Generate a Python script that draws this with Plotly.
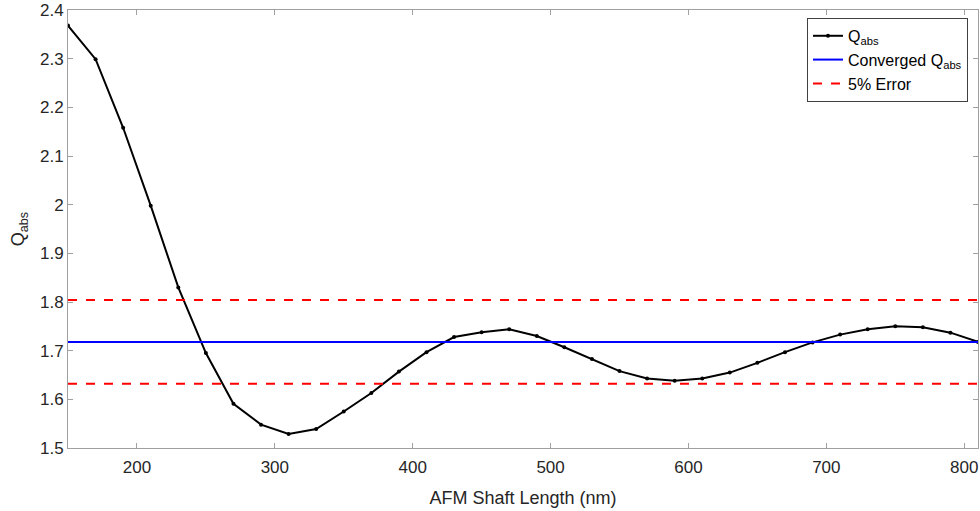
import plotly.graph_objects as go

# Data
shaft_length = [150, 170, 190, 210, 230, 250, 270, 290, 310, 330, 350, 370, 390,
                410, 430, 450, 470, 490, 510, 530, 550, 570, 590, 610, 630, 650,
                670, 690, 710, 730, 750, 770, 790, 810]
q_abs = [2.368, 2.299, 2.158, 1.998, 1.830, 1.695, 1.591, 1.548, 1.529, 1.539,
         1.575, 1.613, 1.657, 1.697, 1.728, 1.738, 1.744, 1.730, 1.707, 1.683,
         1.658, 1.643, 1.638, 1.643, 1.655, 1.675, 1.697, 1.717, 1.733, 1.744,
         1.750, 1.748, 1.737, 1.718]
converged_q = 1.718
error_frac = 0.05
x_range = [150, 810]
x_ticks = [200, 300, 400, 500, 600, 700, 800]
y_ticks = [1.5, 1.6, 1.7, 1.8, 1.9, 2.0, 2.1, 2.2, 2.3, 2.4]
y_tick_text = ["1.5", "1.6", "1.7", "1.8", "1.9", "2", "2.1", "2.2", "2.3", "2.4"]

upper = converged_q * (1 + error_frac)
lower = converged_q * (1 - error_frac)

fig = go.Figure()
fig.add_trace(go.Scatter(
    x=shaft_length, y=q_abs, mode="lines+markers", name="Q<sub>abs</sub>",
    line=dict(color="black", width=2), marker=dict(color="black", size=4)))
fig.add_trace(go.Scatter(
    x=x_range, y=[converged_q, converged_q], mode="lines",
    name="Converged Q<sub>abs</sub>", line=dict(color="#0000ff", width=2)))
fig.add_trace(go.Scatter(
    x=x_range, y=[upper, upper], mode="lines", name="5% Error",
    legendgroup="err", line=dict(color="#ff0000", width=2, dash="dash")))
fig.add_trace(go.Scatter(
    x=x_range, y=[lower, lower], mode="lines", name="5% Error",
    legendgroup="err", showlegend=False,
    line=dict(color="#ff0000", width=2, dash="dash")))

axis_common = dict(
    showline=True, linecolor="#a0a0a0", linewidth=1, mirror="ticks",
    ticks="inside", ticklen=5, tickcolor="#a0a0a0", showgrid=False,
    zeroline=False, tickfont=dict(family="Liberation Sans, Arial", size=17, color="#262626"),
)

fig.update_layout(
    width=980, height=511,
    margin=dict(l=68, r=2, t=10, b=63),
    paper_bgcolor="white", plot_bgcolor="white",
    font=dict(family="Liberation Sans, Arial", size=17, color="#262626"),
    xaxis=dict(range=x_range, tickvals=x_ticks, ticklabelstandoff=4,
               title=dict(text="AFM Shaft Length (nm)", font=dict(size=18), standoff=14),
               **axis_common),
    yaxis=dict(range=[1.5, 2.4], tickvals=y_ticks, ticktext=y_tick_text,
               title=dict(text="Q<sub>abs</sub>", font=dict(size=18), standoff=10),
               **axis_common),
    legend=dict(x=0.989, y=0.982, xanchor="right", yanchor="top",
                bgcolor="white", bordercolor="#404040", borderwidth=1,
                font=dict(size=16, color="black"), tracegroupgap=0,
                itemwidth=30),
    showlegend=True,
)

fig.write_html("out.html")
